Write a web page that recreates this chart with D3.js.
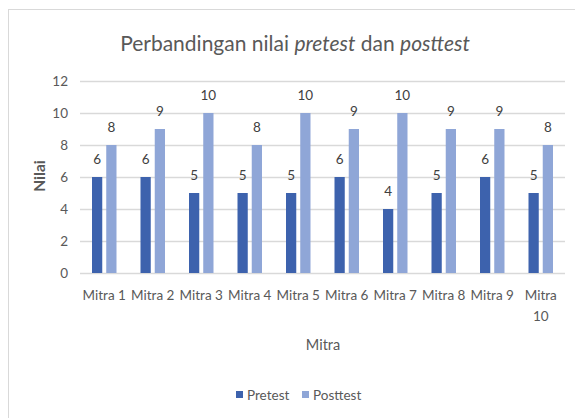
<!DOCTYPE html>
<html><head><meta charset="utf-8">
<script src="https://cdn.jsdelivr.net/npm/d3@7"></script>
<style>body{margin:0;background:#fff}svg{display:block;font-family:Lato,"Open Sans",sans-serif}</style>
</head><body><svg id="c" width="575" height="418"></svg>
<script>
const categories = ["Mitra 1","Mitra 2","Mitra 3","Mitra 4","Mitra 5","Mitra 6","Mitra 7","Mitra 8","Mitra 9","Mitra 10"];
const pretest  = [6,6,5,5,5,6,4,5,6,5];
const posttest = [8,9,10,8,10,9,10,9,9,8];
const yTicks = [0,2,4,6,8,10,12];
const seriesNames = ["Pretest","Posttest"];
const colors = ["#3D62AD","#8FA6D7"];

const svg = d3.select("#c");
svg.append("rect").attr("x",8.5).attr("y",9.5).attr("width",575).attr("height",420)
  .attr("fill","#fff").attr("stroke","#D9D9D9");

const x = d3.scaleBand().domain(categories).range([80,565]).paddingInner(0).paddingOuter(0);
const y = d3.scaleLinear().domain([0,12]).range([273,81]);
const xs = d3.scaleBand().domain(seriesNames).range([0,24.5]).paddingInner(0.28);
const off = (x.bandwidth()-24.5)/2;

// gridlines
const ya = svg.append("g").attr("transform","translate(80,0)")
  .call(d3.axisLeft(y).tickValues(yTicks).tickSize(-485).tickPadding(12));
ya.select(".domain").remove();
ya.selectAll(".tick line").attr("stroke","#D9D9D9").attr("stroke-width",1.3);
ya.selectAll(".tick text").attr("fill","#595959").style("font-size","13.5px").style("font-family","Lato,sans-serif");

const data = categories.map((c,i)=>({c, vals:[pretest[i],posttest[i]]}));
const g = svg.append("g");
data.forEach(d=>{
  d.vals.forEach((v,j)=>{
    const bx = x(d.c)+off+xs(seriesNames[j]);
    g.append("rect").attr("x",bx).attr("y",y(v)).attr("width",xs.bandwidth()).attr("height",y(0)-y(v)).attr("fill",colors[j]);
    g.append("text").attr("x",bx+xs.bandwidth()/2).attr("y",y(v)-13).attr("text-anchor","middle")
      .attr("fill","#404040").style("font-size","13.5px").text(v);
  });
});

// x axis
const xa = svg.append("g").attr("transform","translate(0,273)").call(d3.axisBottom(x).tickSize(0).tickPadding(0));
xa.select(".domain").remove();
xa.selectAll(".tick text").remove();
xa.selectAll(".tick").each(function(d){
  const t = d3.select(this).append("text").attr("text-anchor","middle").attr("fill","#595959").style("font-size","13.5px").style("font-family","Lato,sans-serif");
  if (d==="Mitra 10") {
    t.append("tspan").attr("x",0).attr("y",27).text("Mitra");
    t.append("tspan").attr("x",0).attr("y",48).text("10");
  } else {
    t.attr("y",27).text(d);
  }
});

// title
const title = svg.append("text").attr("x",295).attr("y",51).attr("text-anchor","middle")
  .attr("fill","#595959").style("font-size","21px");
title.append("tspan").text("Perbandingan nilai ");
title.append("tspan").style("font-style","italic").text("pretest");
title.append("tspan").text(" dan ");
title.append("tspan").style("font-style","italic").text("posttest");

// axis titles
svg.append("text").attr("transform","translate(45,176) rotate(-90)").attr("text-anchor","middle")
  .attr("fill","#595959").style("font-size","15.5px").style("font-weight","bold").text("Nilai");
svg.append("text").attr("x",323).attr("y",350).attr("text-anchor","middle")
  .attr("fill","#595959").style("font-size","14.5px").text("Mitra");

// legend
const leg = svg.append("g");
const legX = [236,302];
seriesNames.forEach((n,i)=>{
  leg.append("rect").attr("x",legX[i]).attr("y",391).attr("width",7).attr("height",7).attr("fill",colors[i]);
  leg.append("text").attr("x",legX[i]+11).attr("y",399.5).attr("fill","#595959").style("font-size","13.5px").text(n);
});
</script></body></html>
